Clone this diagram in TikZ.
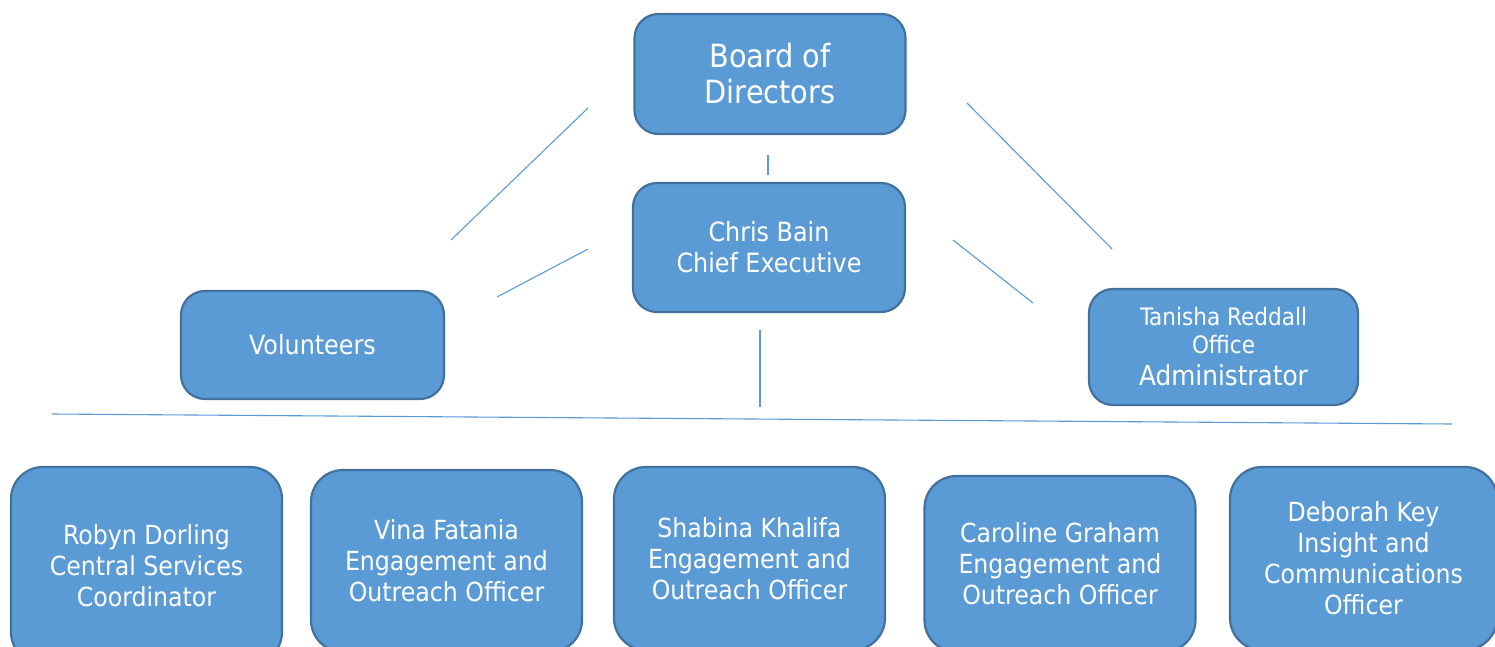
\documentclass[tikz,border=0pt]{standalone}
\usepackage{fontspec}
\setmainfont{DejaVu Sans Condensed}
\usepackage{tikz}
\definecolor{boxfill}{HTML}{5B9BD5}
\definecolor{boxline}{HTML}{41719C}
\tikzset{
	post/.style={draw=boxline, line width=2.2pt, fill=boxfill, text=white,
		align=center, inner sep=0pt, rounded corners=24pt},
	staff/.style={post, minimum width=271pt, rounded corners=32pt,
		font=\fontsize{26.3}{31}\selectfont},
	link/.style={draw=boxfill, line width=1.1pt}
}

\begin{document}
\begin{tikzpicture}[x=1pt,y=-1pt]
		\clip (0,0) rectangle (1495,646);
		\fill[white] (0,0) rectangle (1495,646);

		\node[post, minimum width=271pt, minimum height=120pt,
			font=\fontsize{32}{36}\selectfont] (B) at (770,74) {Board of\\Directors};
		\node[post, minimum width=272pt, minimum height=129pt,
			font=\fontsize{26.5}{31}\selectfont] (C) at (769,247.5) {Chris Bain\\Chief Executive};
		\node[post, minimum width=263pt, minimum height=108pt,
			font=\fontsize{26.5}{31}\selectfont] (V) at (312.5,345) {Volunteers};
		\node[post, minimum width=269pt, minimum height=116pt,
			font=\fontsize{24}{28}\selectfont] (T) at (1223.5,347)
			{Tanisha Reddall\\Office\\[4pt]{\fontsize{27.5}{31}\selectfont Administrator}};

		\node[staff, minimum height=197pt] (S1) at (146.5,565.5) {Robyn Dorling\\Central Services\\Coordinator};
		\node[staff, minimum height=182pt] (S2) at (446.5,561) {Vina Fatania\\Engagement and\\Outreach Officer};
		\node[staff, minimum height=183pt] (S3) at (749.5,558.5) {Shabina Khalifa\\Engagement and\\Outreach Officer};
		\node[staff, minimum height=176pt] (S4) at (1060,564) {Caroline Graham\\Engagement and\\Outreach Officer};
		\node[staff, minimum height=183pt, minimum width=267pt] (S5) at (1363.5,558.5) {Deborah Key\\Insight and\\Communications\\Officer};
		%
		\coordinate (B1) at (768,155);
		\coordinate (C0) at (768,175);
		\coordinate (BL) at (588,108);
		\coordinate (VL) at (451,240);
		\coordinate (CL) at (588,249);
		\coordinate (VS) at (497,297);
		\coordinate (BR) at (967,103);
		\coordinate (TR) at (1112,249);
		\coordinate (CR) at (953,240);
		\coordinate (TS) at (1033,303);
		\coordinate (C1) at (760,330);
		\coordinate (C2) at (760,407);
		\coordinate (H1) at (52,414);
		\coordinate (H2) at (1452,424);
		%
		\path[link]
			(B1) edge (C0)
			(BL) edge (VL)
			(CL) edge (VS)
			(BR) edge (TR)
			(CR) edge (TS)
			(C1) edge (C2)
			(H1) edge (H2);

	\end{tikzpicture}
\end{document}
